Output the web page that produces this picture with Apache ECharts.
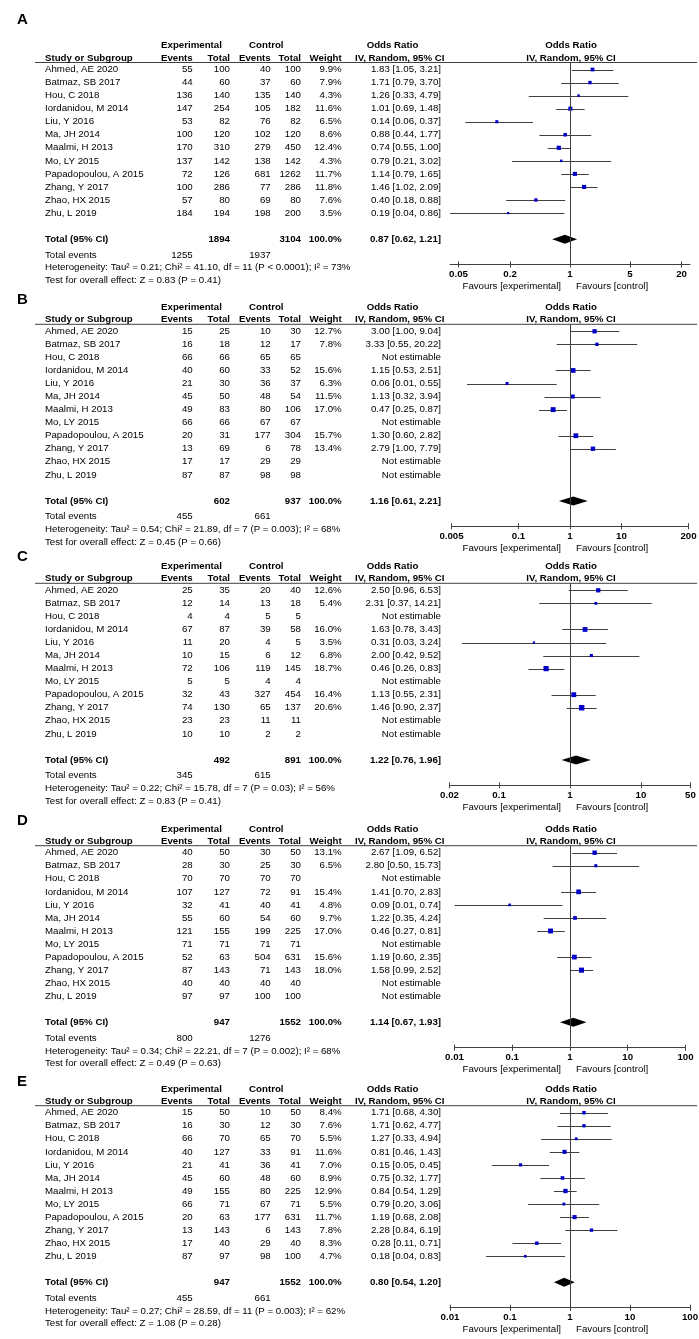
<!DOCTYPE html>
<html><head><meta charset="utf-8">
<script src="https://cdn.jsdelivr.net/npm/echarts@6/dist/echarts.min.js"></script>
<style>html,body{margin:0;padding:0;background:#fff}#c{width:699px;height:1339px}</style>
</head><body><div id="c"></div>
<script>
const studies = ["Ahmed, AE 2020","Batmaz, SB 2017","Hou, C 2018","Iordanidou, M 2014","Liu, Y 2016","Ma, JH 2014","Maalmi, H 2013","Mo, LY 2015","Papadopoulou, A 2015","Zhang, Y 2017","Zhao, HX 2015","Zhu, L 2019"];

// Panel A
const A_expEvents = [55,44,136,147,53,100,170,137,72,100,57,184];
const A_expTotal  = [100,60,140,254,82,120,310,142,126,286,80,194];
const A_ctlEvents = [40,37,135,105,76,102,279,138,681,77,69,198];
const A_ctlTotal  = [100,60,140,182,82,120,450,142,1262,286,80,200];
const A_weight = [9.9,7.9,4.3,11.6,6.5,8.6,12.4,4.3,11.7,11.8,7.6,3.5];
const A_or = [1.83,1.71,1.26,1.01,0.14,0.88,0.74,0.79,1.14,1.46,0.40,0.19];
const A_lo = [1.05,0.79,0.33,0.69,0.06,0.44,0.55,0.21,0.79,1.02,0.18,0.04];
const A_hi = [3.21,3.70,4.79,1.48,0.37,1.77,1.00,3.02,1.65,2.09,0.88,0.86];
const A_totals = [1894,3104];
const A_totalEvents = [1255,1937];
const A_overall = [0.87,0.62,1.21];
const A_het = "Heterogeneity: Tau² = 0.21; Chi² = 41.10, df = 11 (P < 0.0001); I² = 73%";
const A_test = "Test for overall effect: Z = 0.83 (P = 0.41)";
const A_ticks = [0.05,0.2,1,5,20];

// Panel B
const B_expEvents = [15,16,66,40,21,45,49,66,20,13,17,87];
const B_expTotal  = [25,18,66,60,30,50,83,66,31,69,17,87];
const B_ctlEvents = [10,12,65,33,36,48,80,67,177,6,29,98];
const B_ctlTotal  = [30,17,65,52,37,54,106,67,304,78,29,98];
const B_weight = [12.7,7.8,null,15.6,6.3,11.5,17.0,null,15.7,13.4,null,null];
const B_or = [3.00,3.33,null,1.15,0.06,1.13,0.47,null,1.30,2.79,null,null];
const B_lo = [1.00,0.55,null,0.53,0.01,0.32,0.25,null,0.60,1.00,null,null];
const B_hi = [9.04,20.22,null,2.51,0.55,3.94,0.87,null,2.82,7.79,null,null];
const B_totals = [602,937];
const B_totalEvents = [455,661];
const B_overall = [1.16,0.61,2.21];
const B_het = "Heterogeneity: Tau² = 0.54; Chi² = 21.89, df = 7 (P = 0.003); I² = 68%";
const B_test = "Test for overall effect: Z = 0.45 (P = 0.66)";
const B_ticks = [0.005,0.1,1,10,200];

// Panel C
const C_expEvents = [25,12,4,67,11,10,72,5,32,74,23,10];
const C_expTotal  = [35,14,4,87,20,15,106,5,43,130,23,10];
const C_ctlEvents = [20,13,5,39,4,6,119,4,327,65,11,2];
const C_ctlTotal  = [40,18,5,58,5,12,145,4,454,137,11,2];
const C_weight = [12.6,5.4,null,16.0,3.5,6.8,18.7,null,16.4,20.6,null,null];
const C_or = [2.50,2.31,null,1.63,0.31,2.00,0.46,null,1.13,1.46,null,null];
const C_lo = [0.96,0.37,null,0.78,0.03,0.42,0.26,null,0.55,0.90,null,null];
const C_hi = [6.53,14.21,null,3.43,3.24,9.52,0.83,null,2.31,2.37,null,null];
const C_totals = [492,891];
const C_totalEvents = [345,615];
const C_overall = [1.22,0.76,1.96];
const C_het = "Heterogeneity: Tau² = 0.22; Chi² = 15.78, df = 7 (P = 0.03); I² = 56%";
const C_test = "Test for overall effect: Z = 0.83 (P = 0.41)";
const C_ticks = [0.02,0.1,1,10,50];

// Panel D
const D_expEvents = [40,28,70,107,32,55,121,71,52,87,40,97];
const D_expTotal  = [50,30,70,127,41,60,155,71,63,143,40,97];
const D_ctlEvents = [30,25,70,72,40,54,199,71,504,71,40,100];
const D_ctlTotal  = [50,30,70,91,41,60,225,71,631,143,40,100];
const D_weight = [13.1,6.5,null,15.4,4.8,9.7,17.0,null,15.6,18.0,null,null];
const D_or = [2.67,2.80,null,1.41,0.09,1.22,0.46,null,1.19,1.58,null,null];
const D_lo = [1.09,0.50,null,0.70,0.01,0.35,0.27,null,0.60,0.99,null,null];
const D_hi = [6.52,15.73,null,2.83,0.74,4.24,0.81,null,2.35,2.52,null,null];
const D_totals = [947,1552];
const D_totalEvents = [800,1276];
const D_overall = [1.14,0.67,1.93];
const D_het = "Heterogeneity: Tau² = 0.34; Chi² = 22.21, df = 7 (P = 0.002); I² = 68%";
const D_test = "Test for overall effect: Z = 0.49 (P = 0.63)";
const D_ticks = [0.01,0.1,1,10,100];

// Panel E
const E_expEvents = [15,16,66,40,21,45,49,66,20,13,17,87];
const E_expTotal  = [50,30,70,127,41,60,155,71,63,143,40,97];
const E_ctlEvents = [10,12,65,33,36,48,80,67,177,6,29,98];
const E_ctlTotal  = [50,30,70,91,41,60,225,71,631,143,40,100];
const E_weight = [8.4,7.6,5.5,11.6,7.0,8.9,12.9,5.5,11.7,7.8,8.3,4.7];
const E_or = [1.71,1.71,1.27,0.81,0.15,0.75,0.84,0.79,1.19,2.28,0.28,0.18];
const E_lo = [0.68,0.62,0.33,0.46,0.05,0.32,0.54,0.20,0.68,0.84,0.11,0.04];
const E_hi = [4.30,4.77,4.94,1.43,0.45,1.77,1.29,3.06,2.08,6.19,0.71,0.83];
const E_totals = [947,1552];
const E_totalEvents = [455,661];
const E_overall = [0.80,0.54,1.20];
const E_het = "Heterogeneity: Tau² = 0.27; Chi² = 28.59, df = 11 (P = 0.003); I² = 62%";
const E_test = "Test for overall effect: Z = 1.08 (P = 0.28)";
const E_ticks = [0.01,0.1,1,10,100];

const panels = [
  {letter:'A', expEvents:A_expEvents, expTotal:A_expTotal, ctlEvents:A_ctlEvents, ctlTotal:A_ctlTotal, weight:A_weight, or:A_or, lo:A_lo, hi:A_hi, totals:A_totals, totalEvents:A_totalEvents, overall:A_overall, het:A_het, test:A_test, ticks:A_ticks},
  {letter:'B', expEvents:B_expEvents, expTotal:B_expTotal, ctlEvents:B_ctlEvents, ctlTotal:B_ctlTotal, weight:B_weight, or:B_or, lo:B_lo, hi:B_hi, totals:B_totals, totalEvents:B_totalEvents, overall:B_overall, het:B_het, test:B_test, ticks:B_ticks},
  {letter:'C', expEvents:C_expEvents, expTotal:C_expTotal, ctlEvents:C_ctlEvents, ctlTotal:C_ctlTotal, weight:C_weight, or:C_or, lo:C_lo, hi:C_hi, totals:C_totals, totalEvents:C_totalEvents, overall:C_overall, het:C_het, test:C_test, ticks:C_ticks},
  {letter:'D', expEvents:D_expEvents, expTotal:D_expTotal, ctlEvents:D_ctlEvents, ctlTotal:D_ctlTotal, weight:D_weight, or:D_or, lo:D_lo, hi:D_hi, totals:D_totals, totalEvents:D_totalEvents, overall:D_overall, het:D_het, test:D_test, ticks:D_ticks},
  {letter:'E', expEvents:E_expEvents, expTotal:E_expTotal, ctlEvents:E_ctlEvents, ctlTotal:E_ctlTotal, weight:E_weight, or:E_or, lo:E_lo, hi:E_hi, totals:E_totals, totalEvents:E_totalEvents, overall:E_overall, het:E_het, test:E_test, ticks:E_ticks}
];

// Layout (pixels)
const layout = [
  {L:62.5,   letterY:20,     left:450,   width:240, range:1.40},
  {L:324.3,  letterY:300,    left:451.5, width:237, range:Math.log10(200)+1e-9},
  {L:583.3,  letterY:556.7,  left:449.5, width:241, range:Math.log10(50)+1e-9},
  {L:845.7,  letterY:820.7,  left:454.5, width:231, range:2+1e-9},
  {L:1105.7, letterY:1081.7, left:450,   width:240, range:2+1e-9}
];
const ROW_H = 13.05, FIRST = 7, AXIS_H = 202, TOTAL_ROW = 13;
const COL = {name:45, expEv:192.7, expTot:230, ctlEv:270.7, ctlTot:301, weight:341.7, ci:441, ciHead:444.5};
const FONT = '"Liberation Sans", Arial, Helvetica, sans-serif';
const FS = 9.7;
const LINE_COLOR = '#404040';

function txt(x, y, text, align, bold, size){
  return {type:'text', x:x, y:y, silent:true, z:10,
    style:{text:String(text), fill:'#000', font:(bold?'bold ':'')+(size||FS)+'px '+FONT,
      textAlign:align||'left', textVerticalAlign:'middle'}};
}
const f2 = v => v.toFixed(2);
const ciText = (o,l,h) => f2(o)+' ['+f2(l)+', '+f2(h)+']';

const graphics = [];
const grids = [], xAxes = [], yAxes = [], series = [];

panels.forEach((p, k) => {
  const g = layout[k];
  const L = g.L;
  const rowY = i => L + FIRST + ROW_H*i;
  // letter
  graphics.push(txt(17, g.letterY, p.letter, 'left', true, 15));
  // header row 1
  const h1 = L - 16.8, h2 = L - 4.5;
  graphics.push(txt(191.5, h1, 'Experimental', 'center', true));
  graphics.push(txt(266.3, h1, 'Control', 'center', true));
  graphics.push(txt(392.5, h1, 'Odds Ratio', 'center', true));
  graphics.push(txt(571, h1, 'Odds Ratio', 'center', true));
  // header row 2
  graphics.push(txt(COL.name, h2, 'Study or Subgroup', 'left', true));
  graphics.push(txt(COL.expEv, h2, 'Events', 'right', true));
  graphics.push(txt(COL.expTot, h2, 'Total', 'right', true));
  graphics.push(txt(COL.ctlEv, h2, 'Events', 'right', true));
  graphics.push(txt(COL.ctlTot, h2, 'Total', 'right', true));
  graphics.push(txt(COL.weight, h2, 'Weight', 'right', true));
  graphics.push(txt(COL.ciHead, h2, 'IV, Random, 95% CI', 'right', true));
  graphics.push(txt(571, h2, 'IV, Random, 95% CI', 'center', true));
  // header rule
  graphics.push({type:'line', silent:true, z:5, shape:{x1:35, y1:L, x2:697, y2:L}, style:{stroke:LINE_COLOR, lineWidth:1}});
  // rows
  studies.forEach((s, i) => {
    const y = rowY(i);
    graphics.push(txt(COL.name, y, s, 'left'));
    graphics.push(txt(COL.expEv, y, p.expEvents[i], 'right'));
    graphics.push(txt(COL.expTot, y, p.expTotal[i], 'right'));
    graphics.push(txt(COL.ctlEv, y, p.ctlEvents[i], 'right'));
    graphics.push(txt(COL.ctlTot, y, p.ctlTotal[i], 'right'));
    if (p.or[i] != null) {
      graphics.push(txt(COL.weight, y, p.weight[i].toFixed(1)+'%', 'right'));
      graphics.push(txt(COL.ci, y, ciText(p.or[i], p.lo[i], p.hi[i]), 'right'));
    } else {
      graphics.push(txt(COL.ci, y, 'Not estimable', 'right'));
    }
  });
  // total row
  const ty = rowY(TOTAL_ROW);
  graphics.push(txt(COL.name, ty, 'Total (95% CI)', 'left', true));
  graphics.push(txt(COL.expTot, ty, p.totals[0], 'right', true));
  graphics.push(txt(COL.ctlTot, ty, p.totals[1], 'right', true));
  graphics.push(txt(COL.weight, ty, '100.0%', 'right', true));
  graphics.push(txt(COL.ci, ty, ciText(p.overall[0], p.overall[1], p.overall[2]), 'right', true));
  // footer
  graphics.push(txt(COL.name, L+192.5, 'Total events', 'left'));
  graphics.push(txt(COL.expEv, L+192.5, p.totalEvents[0], 'right'));
  graphics.push(txt(COL.ctlEv, L+192.5, p.totalEvents[1], 'right'));
  graphics.push(txt(COL.name, L+205.3, p.het, 'left'));
  graphics.push(txt(COL.name, L+218, p.test, 'left'));
  graphics.push(txt(561, L+224, 'Favours [experimental]', 'right'));
  graphics.push(txt(576, L+224, 'Favours [control]', 'left'));

  // plot grid
  grids.push({left:g.left, width:g.width, top:L, height:AXIS_H, containLabel:false, outerBoundsMode:'none'});
  const tickLog = p.ticks.map(t => Math.log10(t));
  const labelFor = v => { for (const t of p.ticks) { if (Math.abs(Math.log10(t) - v) < 1e-6) return String(t); } return ''; };
  xAxes.push({type:'value', gridIndex:k, min:-g.range, max:g.range, position:'bottom',
    axisLine:{show:true, onZero:false, lineStyle:{color:LINE_COLOR, width:1}},
    axisTick:{show:true, customValues:tickLog, length:3, inside:false, lineStyle:{color:LINE_COLOR, width:1}},
    axisLabel:{show:true, customValues:tickLog, formatter:labelFor, fontSize:FS, fontWeight:'bold', color:'#000', fontFamily:FONT, margin:5},
    splitLine:{show:false}});
  xAxes.push({type:'value', gridIndex:k, min:-g.range, max:g.range, position:'bottom',
    axisLine:{show:false, onZero:false},
    axisTick:{show:true, customValues:tickLog, length:3, inside:true, lineStyle:{color:LINE_COLOR, width:1}},
    axisLabel:{show:false}, splitLine:{show:false}});
  yAxes.push({type:'value', gridIndex:k, inverse:true, min:-FIRST/ROW_H, max:(AXIS_H-FIRST)/ROW_H, show:false, splitLine:{show:false}});

  const ciData = [], sqData = [];
  p.or.forEach((o, i) => {
    if (o == null) return;
    ciData.push([Math.log10(p.lo[i]), Math.log10(p.hi[i]), i]);
    sqData.push([Math.log10(o), i, p.weight[i]]);
  });
  series.push({type:'custom', xAxisIndex:2*k, yAxisIndex:k, data:ciData, encode:{x:[0,1], y:2}, silent:true, z:2,
    renderItem:(params, api) => {
      const a = api.coord([api.value(0), api.value(2)]);
      const b = api.coord([api.value(1), api.value(2)]);
      return {type:'line', shape:{x1:a[0], y1:Math.round(a[1])+0.5, x2:b[0], y2:Math.round(b[1])+0.5}, style:{stroke:LINE_COLOR, lineWidth:1}};
    }});
  series.push({type:'scatter', xAxisIndex:2*k, yAxisIndex:k, data:sqData, symbol:'rect', z:3, silent:true,
    symbolSize:v => 1.2*Math.sqrt(v[2]),
    itemStyle:{color:'#0000C8', opacity:1},
    markLine:{silent:true, symbol:['none','none'], label:{show:false}, animation:false,
      lineStyle:{color:LINE_COLOR, width:1, type:'solid'}, emphasis:{disabled:true}, data:[{xAxis:0}]}});
  series.push({type:'custom', xAxisIndex:2*k, yAxisIndex:k, silent:true, z:4,
    data:[[Math.log10(p.overall[1]), Math.log10(p.overall[0]), Math.log10(p.overall[2]), TOTAL_ROW]],
    encode:{x:[0,1,2], y:3},
    renderItem:(params, api) => {
      const y = api.value(3);
      const a = api.coord([api.value(0), y]);
      const b = api.coord([api.value(1), y]);
      const c = api.coord([api.value(2), y]);
      return {type:'polygon', shape:{points:[a,[b[0],b[1]-4.5],c,[b[0],b[1]+4.5]]}, style:{fill:'#000'}};
    }});
});

const chart = echarts.init(document.getElementById('c'), null, {renderer:'canvas', width:699, height:1339});
chart.setOption({
  animation:false,
  backgroundColor:'#fff',
  textStyle:{fontFamily:FONT},
  grid:grids, xAxis:xAxes, yAxis:yAxes, series:series,
  graphic:{elements:graphics}
});
</script></body></html>
